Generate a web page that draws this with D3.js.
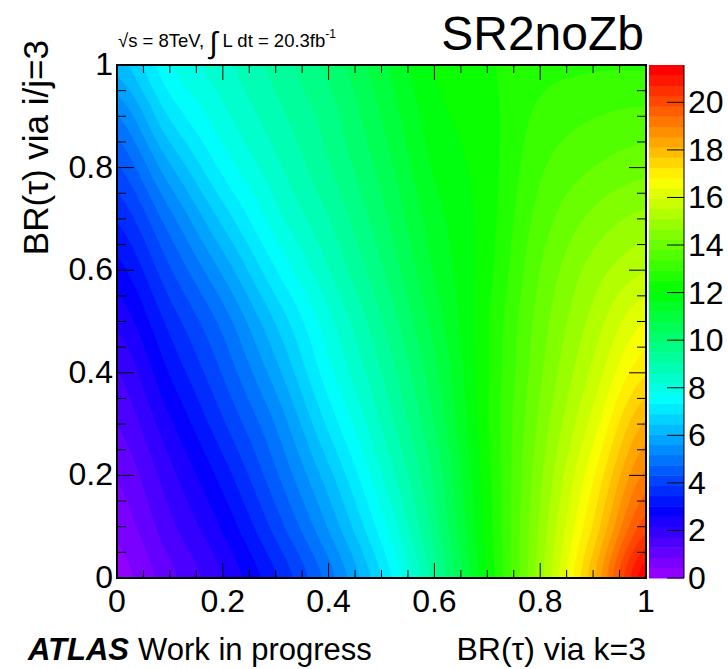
<!DOCTYPE html>
<html>
<head>
<meta charset="utf-8">
<script src="https://cdn.jsdelivr.net/npm/d3@7"></script>
<style>
  body { margin: 0; background: #fff; }
  text { font-family: "Liberation Sans", Arial, Helvetica, sans-serif; fill: #000; }
</style>
</head>
<body>
<div id="chart"></div>
<script>
// grid points of the scan (BR via k=3 on x, BR via i/j=3 on y)
const xGrid = [0, 0.1, 0.2, 0.3, 0.4, 0.5, 0.6, 0.7, 0.8, 0.9, 1.0]
const yGrid = [0, 0.1, 0.2, 0.3, 0.4, 0.5, 0.6, 0.7, 0.8, 0.9, 1.0]

// values, one row per y value
const z_y00 = [0.2, 1.15, 2.15, 3.4, 4.95, 6.9, 9.3, 12.1, 14.9, 18.0, 21.5]
const z_y01 = [0.55, 1.6, 2.65, 4.05, 5.65, 7.55, 9.7, 12.25, 14.75, 17.3, 20.1]
const z_y02 = [0.9, 2.0, 3.2, 4.65, 6.3, 8.15, 10.0, 12.35, 14.55, 16.75, 19.1]
const z_y03 = [1.3, 2.5, 3.8, 5.2, 7.0, 8.65, 10.35, 12.45, 14.35, 16.15, 18.2]
const z_y04 = [1.7, 3.05, 4.35, 5.85, 7.6, 9.05, 10.65, 12.45, 14.15, 15.65, 17.2]
const z_y05 = [2.25, 3.6, 4.9, 6.5, 8.05, 9.45, 10.95, 12.45, 14.0, 15.25, 16.4]
const z_y06 = [2.85, 4.25, 5.7, 7.3, 8.6, 9.85, 11.25, 12.35, 13.8, 14.85, 15.5]
const z_y07 = [3.5, 5.0, 6.6, 8.0, 9.05, 10.2, 11.45, 12.3, 13.55, 14.35, 14.8]
const z_y08 = [4.25, 5.95, 7.45, 8.5, 9.45, 10.5, 11.7, 12.3, 13.3, 13.8, 14.1]
const z_y09 = [5.15, 6.95, 8.05, 8.9, 9.7, 10.8, 11.9, 12.35, 13.05, 13.35, 13.5]
const z_y10 = [6.2, 7.7, 8.45, 9.2, 10.0, 11.05, 12.1, 12.45, 12.8, 12.9, 12.9]
const zRows = [z_y00, z_y01, z_y02, z_y03, z_y04, z_y05, z_y06, z_y07, z_y08, z_y09, z_y10]

// z range of the palette and its labels
const zRange = [0, 21.57]
const nLevels = 50
const xTickLabels = [0, 0.2, 0.4, 0.6, 0.8, 1]
const yTickLabels = [0, 0.2, 0.4, 0.6, 0.8, 1]
const zTickLabels = [0, 2, 4, 6, 8, 10, 12, 14, 16, 18, 20]

const W = 728, H = 669
const frame = { left: 117, right: 646, top: 65, bottom: 578 }
const bar = { left: 649, right: 684 }

const svg = d3.select("#chart").append("svg")
    .attr("width", W).attr("height", H)

const x = d3.scaleLinear().domain([0, 1]).range([frame.left, frame.right])
const y = d3.scaleLinear().domain([0, 1]).range([frame.bottom, frame.top])
const zy = d3.scaleLinear().domain(zRange).range([frame.bottom, frame.top])

// ROOT "pretty" palette: 50 colours from violet to red
const palette = d3.range(nLevels).map(i => d3.hsl(280 - (i + 1) * 5.6, 1, 0.5).formatHex())
const dz = (zRange[1] - zRange[0]) / nLevels
const levels = d3.range(nLevels).map(i => zRange[0] + i * dz)

// smooth (Catmull-Rom) lookup in the scan grid
const nx = xGrid.length, ny = yGrid.length
function cell(i, j) {
    i = Math.max(0, Math.min(nx - 1, i))
    j = Math.max(0, Math.min(ny - 1, j))
    return zRows[j][i]
}
function cubic(p0, p1, p2, p3, t) {
    return p1 + 0.5 * t * (p2 - p0 + t * (2 * p0 - 5 * p1 + 4 * p2 - p3 + t * (3 * (p1 - p2) + p3 - p0)))
}
function zAt(px, py) {
    const fx = px * (nx - 1), fy = py * (ny - 1)
    const i = Math.min(Math.floor(fx), nx - 2)
    const j = Math.min(Math.floor(fy), ny - 2)
    const tx = fx - i, ty = fy - j
    const col = []
    for (let k = -1; k <= 2; k++) {
        col.push(cubic(cell(i - 1, j + k), cell(i, j + k), cell(i + 1, j + k), cell(i + 2, j + k), tx))
    }
    const v = cubic(col[0], col[1], col[2], col[3], ty)
    return Math.max(zRange[0], Math.min(zRange[1] - 1e-6, v))
}

// fine sampling for smooth contour bands (row 0 = top)
const N = 201
const values = new Array(N * N)
for (let j = 0; j < N; j++) {
    for (let i = 0; i < N; i++) {
        values[j * N + i] = zAt(i / (N - 1), 1 - j / (N - 1))
    }
}

const contours = d3.contours().size([N, N]).thresholds(levels)(values)

const proj = d3.geoTransform({
    point: function (px, py) {
        this.stream.point(x((px - 0.5) / (N - 1)), y(1 - (py - 0.5) / (N - 1)))
    }
})
const path = d3.geoPath(proj)

svg.append("clipPath").attr("id", "frameClip")
    .append("rect")
    .attr("x", frame.left).attr("y", frame.top)
    .attr("width", frame.right - frame.left).attr("height", frame.bottom - frame.top)

svg.append("g")
    .attr("clip-path", "url(#frameClip)")
    .selectAll("path")
    .data(contours)
    .enter()
    .append("path")
    .attr("d", path)
    .attr("fill", (d, i) => palette[i])
    .attr("stroke", (d, i) => palette[i])
    .attr("stroke-width", 0.6)

// palette bar
svg.append("g")
    .selectAll("rect")
    .data(levels)
    .enter()
    .append("rect")
    .attr("x", bar.left)
    .attr("width", bar.right - bar.left)
    .attr("y", d => zy(d + dz))
    .attr("height", d => zy(d) - zy(d + dz) + 0.5)
    .attr("fill", (d, i) => palette[i])

// palette axis on the right of the bar
const zAxis = svg.append("g")
zAxis.append("line")
    .attr("x1", bar.right).attr("x2", bar.right)
    .attr("y1", frame.top).attr("y2", frame.bottom)
    .attr("stroke", "#000").attr("stroke-width", 1)
zAxis.selectAll("line.tick")
    .data(zTickLabels)
    .enter()
    .append("line")
    .attr("class", "tick")
    .attr("x1", bar.right - 17).attr("x2", bar.right)
    .attr("y1", d => zy(d)).attr("y2", d => zy(d))
    .attr("stroke", "#000").attr("stroke-width", 1)
zAxis.selectAll("text")
    .data(zTickLabels)
    .enter()
    .append("text")
    .attr("x", bar.right + 4)
    .attr("y", d => zy(d) + 11)
    .attr("font-size", 32)
    .text(d => d)

// frame and ticks (ROOT style, ticks inside on all four sides)
const minorX = d3.range(0, 1.0001, 0.05)
const isMajor = v => Math.abs(v * 5 - Math.round(v * 5)) < 1e-6

const ticks = svg.append("g").attr("stroke", "#000").attr("stroke-width", 1)
minorX.forEach(v => {
    const lx = isMajor(v) ? 15 : 8
    const ly = isMajor(v) ? 17 : 9
    ticks.append("line").attr("x1", x(v)).attr("x2", x(v))
        .attr("y1", frame.bottom).attr("y2", frame.bottom - lx)
    ticks.append("line").attr("x1", x(v)).attr("x2", x(v))
        .attr("y1", frame.top).attr("y2", frame.top + lx)
    ticks.append("line").attr("y1", y(v)).attr("y2", y(v))
        .attr("x1", frame.left).attr("x2", frame.left + ly)
    ticks.append("line").attr("y1", y(v)).attr("y2", y(v))
        .attr("x1", frame.right).attr("x2", frame.right - ly)
})

svg.append("rect")
    .attr("x", frame.left).attr("y", frame.top)
    .attr("width", frame.right - frame.left).attr("height", frame.bottom - frame.top)
    .attr("fill", "none").attr("stroke", "#000").attr("stroke-width", 2)

// tick labels
svg.append("g").selectAll("text")
    .data(xTickLabels)
    .enter()
    .append("text")
    .attr("x", d => x(d))
    .attr("y", frame.bottom + 34)
    .attr("text-anchor", "middle")
    .attr("font-size", 32)
    .text(d => d)

svg.append("g").selectAll("text")
    .data(yTickLabels)
    .enter()
    .append("text")
    .attr("x", frame.left - 4)
    .attr("y", d => y(d) + 10)
    .attr("text-anchor", "end")
    .attr("font-size", 32)
    .text(d => d)

// axis titles
svg.append("text")
    .attr("x", frame.right)
    .attr("y", 660)
    .attr("text-anchor", "end")
    .attr("font-size", 32)
    .text("BR(\u03c4) via k=3")

svg.append("text")
    .attr("transform", "translate(48,40) rotate(-90)")
    .attr("text-anchor", "end")
    .attr("font-size", 35)
    .text("BR(\u03c4) via i/j=3")

// labels
const atlas = svg.append("text").attr("x", 28).attr("y", 660).attr("font-size", 31)
atlas.append("tspan").attr("font-weight", "bold").attr("font-style", "italic").text("ATLAS")
atlas.append("tspan").attr("dx", 9).text("Work in progress")

svg.append("text")
    .attr("x", frame.right - 2)
    .attr("y", 50)
    .attr("text-anchor", "end")
    .attr("font-size", 48)
    .text("SR2noZb")

const lumi = svg.append("text").attr("x", 118).attr("y", 47).attr("font-size", 18.5)
lumi.append("tspan").text("\u221as = 8TeV, ")
lumi.append("tspan").attr("font-size", 30).attr("dy", 6).text("\u222b")
lumi.append("tspan").attr("dy", -6).text(" L dt = 20.3fb")
lumi.append("tspan").attr("font-size", 12).attr("dy", -9).text("-1")
</script>
</body>
</html>
